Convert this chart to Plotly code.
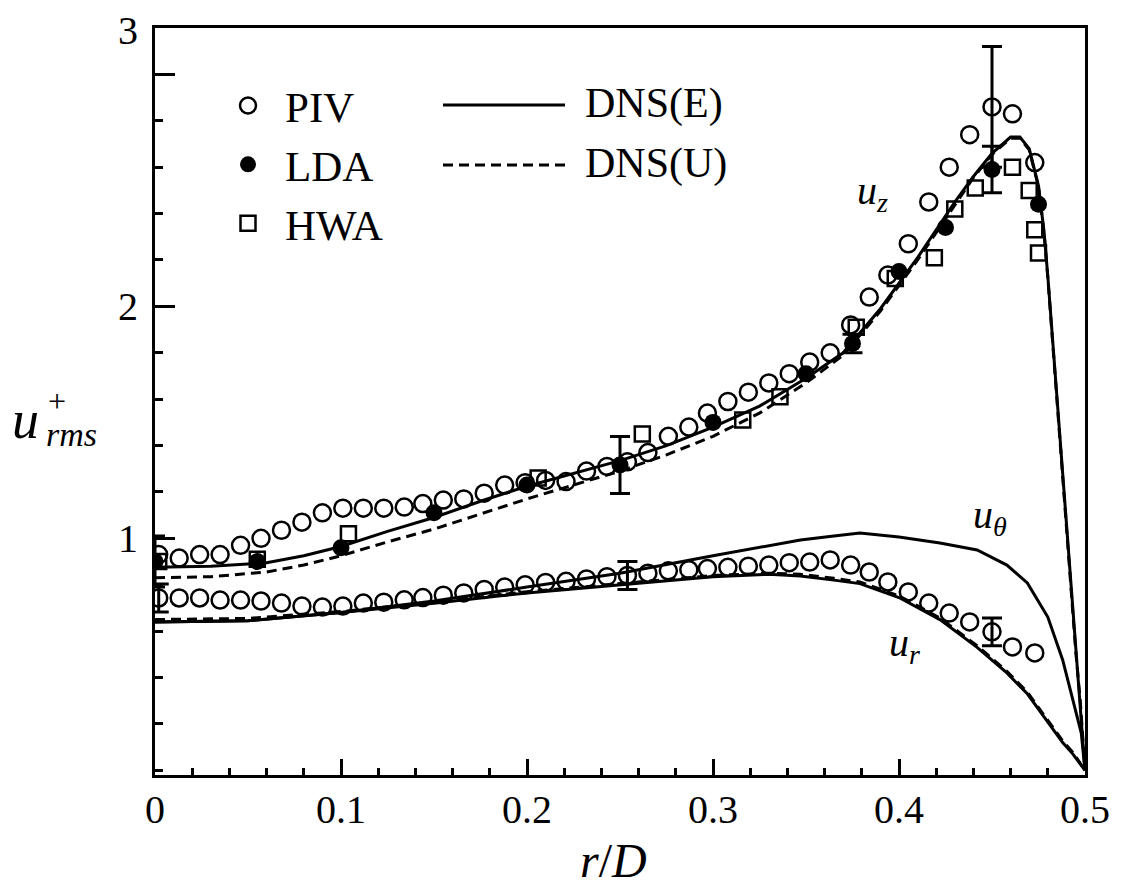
import plotly.graph_objects as go

# ---------------- data ----------------
piv_x = [0.002, 0.013, 0.024, 0.035, 0.046, 0.057, 0.068, 0.079, 0.090, 0.101,
         0.112, 0.123, 0.134, 0.144, 0.155, 0.166, 0.177, 0.188, 0.199, 0.210,
         0.221, 0.232, 0.243, 0.254, 0.265, 0.276, 0.287, 0.297, 0.308, 0.319,
         0.330, 0.341, 0.352, 0.363, 0.374, 0.384, 0.394, 0.405, 0.416, 0.427,
         0.438, 0.450, 0.461, 0.473]
piv_uz = [0.93, 0.915, 0.93, 0.93, 0.97, 1.00, 1.035, 1.07, 1.11, 1.13,
          1.13, 1.13, 1.135, 1.15, 1.165, 1.17, 1.195, 1.23, 1.24, 1.25,
          1.245, 1.29, 1.31, 1.33, 1.37, 1.44, 1.48, 1.54, 1.59, 1.63,
          1.67, 1.71, 1.76, 1.80, 1.92, 2.04, 2.135, 2.27, 2.45, 2.60,
          2.74, 2.86, 2.83, 2.62]
piv_ur = [0.743, 0.743, 0.743, 0.734, 0.734, 0.73, 0.721, 0.708, 0.704, 0.708,
          0.721, 0.725, 0.735, 0.745, 0.755, 0.765, 0.78, 0.79, 0.80, 0.81,
          0.815, 0.825, 0.835, 0.84, 0.85, 0.86, 0.865, 0.87, 0.875, 0.88,
          0.885, 0.895, 0.898, 0.907, 0.885, 0.855, 0.812, 0.769, 0.721, 0.678,
          0.64, 0.597, 0.532, 0.506]

lda_x = [0.0, 0.055, 0.10, 0.15, 0.20, 0.25, 0.30, 0.35, 0.375, 0.40, 0.425, 0.45, 0.475]
lda_uz = [0.90, 0.90, 0.96, 1.11, 1.23, 1.316, 1.50, 1.71, 1.84, 2.15, 2.34, 2.59, 2.44]

hwa_x = [0.002, 0.055, 0.104, 0.206, 0.262, 0.316, 0.336, 0.377, 0.398, 0.419,
         0.430, 0.441, 0.461, 0.470, 0.473, 0.475]
hwa_uz = [0.90, 0.91, 1.02, 1.26, 1.45, 1.51, 1.61, 1.91, 2.12, 2.21,
          2.42, 2.51, 2.60, 2.50, 2.33, 2.23]

dns_x = [0.0, 0.03, 0.06, 0.08, 0.10, 0.125, 0.15, 0.175, 0.20, 0.225, 0.25, 0.275,
         0.30, 0.325, 0.35, 0.37, 0.39, 0.41, 0.43, 0.44, 0.45, 0.46, 0.465, 0.47,
         0.475, 0.478, 0.48, 0.485, 0.49, 0.495, 0.4975, 0.5]
dnsE_uz = [0.875, 0.88, 0.895, 0.925, 0.965, 1.03, 1.09, 1.16, 1.225, 1.28, 1.335, 1.40,
           1.48, 1.57, 1.69, 1.80, 1.99, 2.21, 2.45, 2.56, 2.66, 2.73, 2.73, 2.68,
           2.52, 2.32, 2.13, 1.60, 1.08, 0.52, 0.30, 0.0]
dnsU_uz = [0.83, 0.835, 0.855, 0.885, 0.925, 0.985, 1.04, 1.105, 1.17, 1.23, 1.29, 1.36,
           1.44, 1.54, 1.67, 1.79, 1.98, 2.20, 2.44, 2.555, 2.655, 2.725, 2.725, 2.675,
           2.515, 2.315, 2.125, 1.595, 1.075, 0.515, 0.295, 0.0]

dns2_x = [0.0, 0.05, 0.10, 0.15, 0.20, 0.25, 0.30, 0.33, 0.347, 0.365, 0.379, 0.40,
          0.422, 0.442, 0.458, 0.469, 0.48, 0.488, 0.4935, 0.498, 0.5]
dnsE_ut = [0.64, 0.645, 0.68, 0.73, 0.79, 0.85, 0.925, 0.97, 0.993, 1.01, 1.023, 1.006,
           0.98, 0.95, 0.885, 0.808, 0.661, 0.476, 0.303, 0.161, 0.0]
dnsE_ur = [0.64, 0.645, 0.68, 0.72, 0.765, 0.80, 0.835, 0.845, 0.838, 0.82, 0.805, 0.745,
           0.65, 0.53, 0.42, 0.33, 0.21, 0.12, 0.07, 0.02, 0.0]
dnsU_ur = [0.65, 0.655, 0.685, 0.725, 0.77, 0.805, 0.84, 0.85, 0.845, 0.828, 0.812, 0.752,
           0.657, 0.537, 0.427, 0.337, 0.217, 0.127, 0.077, 0.027, 0.0]

# error bars (index into series, half-length)
lda_err_idx = [0, 5, 8, 11]
lda_err = [0.11, 0.123, 0.04, 0.10]
piv_uz_err_idx = [41]
piv_uz_err = [0.26]
piv_ur_err_idx = [0, 23, 41]
piv_ur_err = [0.06, 0.06, 0.06]

x_tickvals = [0, 0.1, 0.2, 0.3, 0.4, 0.5]
x_ticktext = ["0", "0.1", "0.2", "0.3", "0.4", "0.5"]
y_tickvals = [1, 2, 3]
y_ticktext = ["1", "2", ""]
y_top_label = "3"   # printed at the top end of the axis in the original

FONT = "Liberation Serif"

# page body has an 8px margin; plot area intended at x 155..1085, y 28..775 of the window
OFF = 8
L, R, T, B = 155 - OFF, 1121 - 1085 + OFF, 28 - OFF, 888 - 775 + OFF
PW, PH = 930, 747

def px(xp):
    return (xp - 155) / PW

def py(yp):
    return (775 - yp) / PH

fig = go.Figure()

# DNS lines
fig.add_trace(go.Scatter(x=dns_x, y=dnsU_uz, mode="lines", showlegend=False,
                         line=dict(color="black", width=3, dash="10px,6px")))
fig.add_trace(go.Scatter(x=dns2_x, y=dnsU_ur, mode="lines", showlegend=False,
                         line=dict(color="black", width=3, dash="10px,6px")))
fig.add_trace(go.Scatter(x=dns_x, y=dnsE_uz, mode="lines", showlegend=False,
                         line=dict(color="black", width=3)))
fig.add_trace(go.Scatter(x=dns2_x, y=dnsE_ut, mode="lines", showlegend=False,
                         line=dict(color="black", width=3)))
fig.add_trace(go.Scatter(x=dns2_x, y=dnsE_ur, mode="lines", showlegend=False,
                         line=dict(color="black", width=3)))

# error bars
def err_trace(xs, ys, idx, err):
    return go.Scatter(x=[xs[i] for i in idx], y=[ys[i] for i in idx], mode="markers",
                      showlegend=False, marker=dict(size=1, color="rgba(0,0,0,0)"),
                      error_y=dict(type="data", array=err, symmetric=True,
                                   color="black", thickness=3, width=10))

fig.add_trace(err_trace(lda_x, lda_uz, lda_err_idx, lda_err))
fig.add_trace(err_trace(piv_x, piv_uz, piv_uz_err_idx, piv_uz_err))
fig.add_trace(err_trace(piv_x, piv_ur, piv_ur_err_idx, piv_ur_err))

# markers
fig.add_trace(go.Scatter(x=piv_x, y=piv_uz, mode="markers", name="PIV", legend="legend",
                         marker=dict(symbol="circle-open", size=17, color="black",
                                     line=dict(width=2.5, color="black"))))
fig.add_trace(go.Scatter(x=piv_x, y=piv_ur, mode="markers", name="PIV", showlegend=False,
                         marker=dict(symbol="circle-open", size=17, color="black",
                                     line=dict(width=2.5, color="black"))))
fig.add_trace(go.Scatter(x=lda_x, y=lda_uz, mode="markers", name="LDA", legend="legend",
                         marker=dict(symbol="circle", size=17, color="black")))
fig.add_trace(go.Scatter(x=hwa_x, y=hwa_uz, mode="markers", name="HWA", legend="legend",
                         marker=dict(symbol="square-open", size=15, color="black",
                                     line=dict(width=2.5, color="black"))))

# legend for line styles (decoration)
fig.add_shape(type="line", xref="paper", yref="paper", x0=px(443), x1=px(565), y0=py(105), y1=py(105),
              line=dict(color="black", width=3))
fig.add_shape(type="line", xref="paper", yref="paper", x0=px(443), x1=px(565), y0=py(165), y1=py(165),
              line=dict(color="black", width=3, dash="10px,6px"))
for txt, yy in [("DNS(E)", 103), ("DNS(U)", 163)]:
    fig.add_annotation(text=txt, xref="paper", yref="paper", x=px(583), y=py(yy),
                       xanchor="left", yanchor="middle", showarrow=False,
                       font=dict(family=FONT, size=42, color="black"))

# curve labels
for txt, xx, yy in [("<i>u<sub>z</sub></i>", 0.386, 2.49),
                    ("<i>u<sub>θ</sub></i>", 0.449, 1.09),
                    ("<i>u<sub>r</sub></i>", 0.403, 0.54)]:
    fig.add_annotation(text=txt, x=xx, y=yy, xref="x", yref="y", showarrow=False,
                       xanchor="center", yanchor="middle",
                       font=dict(family=FONT, size=40, color="black"))

# top y label (the original prints "3" at the top end of the axis)
fig.add_annotation(text=y_top_label, xref="paper", yref="paper", x=px(128), y=py(30),
                   showarrow=False, xanchor="center", yanchor="middle",
                   font=dict(family=FONT, size=40, color="black"))

# axis titles
fig.add_annotation(text="<i>r</i>/<i>D</i>", xref="paper", yref="paper",
                   x=px(613), y=py(860), showarrow=False, xanchor="center", yanchor="middle",
                   font=dict(family=FONT, size=48, color="black"))
fig.add_annotation(text="<i>u</i>", xref="paper", yref="paper",
                   x=px(25), y=py(420), showarrow=False, xanchor="center", yanchor="middle",
                   font=dict(family=FONT, size=54, color="black"))
fig.add_annotation(text="+", xref="paper", yref="paper",
                   x=px(57), y=py(401), showarrow=False, xanchor="center", yanchor="middle",
                   font=dict(family=FONT, size=32, color="black"))
fig.add_annotation(text="<i>rms</i>", xref="paper", yref="paper",
                   x=px(71), y=py(434), showarrow=False, xanchor="center", yanchor="middle",
                   font=dict(family=FONT, size=34, color="black"))

fig.update_layout(
    width=1121, height=888,
    margin=dict(l=L, r=R, t=T, b=B),
    paper_bgcolor="white", plot_bgcolor="white",
    font=dict(family=FONT, size=40, color="black"),
    legend=dict(x=px(211), y=py(71), xanchor="left", yanchor="top",
                bgcolor="rgba(0,0,0,0)", itemwidth=64,
                font=dict(family=FONT, size=43, color="black")),
    xaxis=dict(range=[0, 0.5], tickvals=x_tickvals, ticktext=x_ticktext,
               showline=True, linewidth=3, linecolor="black", mirror=True,
               ticks="inside", ticklen=16, tickwidth=3, tickcolor="black",
               minor=dict(dtick=0.02, tick0=0, ticks="inside", ticklen=7, tickwidth=3,
                          tickcolor="black", showgrid=False),
               showgrid=False, zeroline=False, ticklabelstandoff=-3,
               tickfont=dict(family=FONT, size=40)),
    yaxis=dict(range=[-0.02, 3.2], tickvals=y_tickvals, ticktext=y_ticktext,
               showline=True, linewidth=3, linecolor="black", mirror=True,
               ticks="inside", ticklen=20, tickwidth=3, tickcolor="black",
               minor=dict(dtick=0.2, tick0=0, ticks="inside", ticklen=8, tickwidth=3,
                          tickcolor="black", showgrid=False),
               showgrid=False, zeroline=False, ticklabelstandoff=6,
               tickfont=dict(family=FONT, size=40)),
)

fig.write_html("out.html")
